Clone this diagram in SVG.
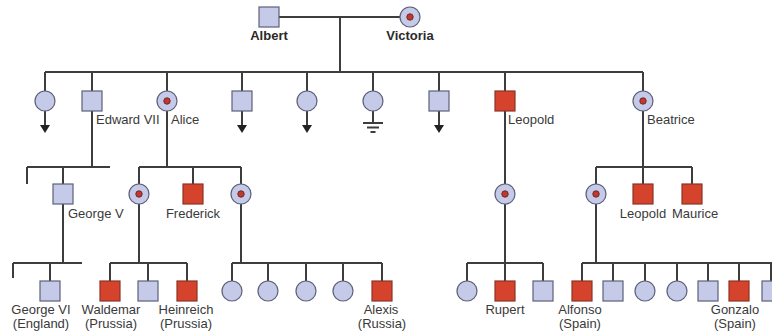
<svg xmlns="http://www.w3.org/2000/svg" width="772" height="335" viewBox="0 0 772 335">
<defs>
<style>
.ln{stroke:#3d3d3d;stroke-width:2;fill:none}
.m{fill:#c5cae9;stroke:#5c6078;stroke-width:1.2}
.a{fill:#d5432c;stroke:#8c3526;stroke-width:1.2}
.c{fill:#c5cae9;stroke:#5c6078;stroke-width:1.2}
.dot{fill:#c0392b;stroke:#6e2a2a;stroke-width:1}
.t{font-family:"Liberation Sans",Arial,sans-serif;font-size:13px;fill:#3a3a3a}
.b{font-family:"Liberation Sans",Arial,sans-serif;font-size:13px;font-weight:bold;fill:#2a2a2a}
.ar{fill:#222}
</style>
</defs>
<rect width="772" height="335" fill="#ffffff"/>
<g id="connectors">
<path class="ln" d="M279 17H400M340 17V72M45 72H643"/>
<path class="ln" d="M45 72V91M92 72V91M167 72V91M242 72V91M307 72V91M373 72V91M439 72V91M505 72V91M643 72V91"/>
<path class="ln" d="M45 111V126M242 111V126M307 111V126M439 111V126"/>
<polygon class="ar" points="40,125 50,125 45,133"/>
<polygon class="ar" points="237,125 247,125 242,133"/>
<polygon class="ar" points="302,125 312,125 307,133"/>
<polygon class="ar" points="434,125 444,125 439,133"/>
<path class="ln" d="M373 111V123M363 123H383M367 127.5H379M370.5 132H375.5"/>
<path class="ln" d="M92 111V167M27 167H110M27 167V184M63 167V184M63 204V263M13 263H82M13 263V278M50 263V281"/>
<path class="ln" d="M167 111V167M139 167H241M139 167V184M193 167V184M241 167V184"/>
<path class="ln" d="M139 204V263M110 263H187M110 263V281M148 263V281M187 263V281"/>
<path class="ln" d="M241 204V263M232 263H382M232 263V281M268 263V281M306 263V281M343 263V281M382 263V281"/>
<path class="ln" d="M505 111V184M505 204V263M467 263H543M467 263V281M505 263V281M543 263V281"/>
<path class="ln" d="M643 111V167M596 167H692M596 167V184M643 167V184M692 167V184"/>
<path class="ln" d="M596 204V263M582 263H772M582 263V281M613 263V281M645 263V281M677 263V281M708 263V281M739 263V281M771 263V281"/>
</g>
<g id="albert"><rect class="m" x="259" y="7" width="20" height="20"/><text class="b" x="269" y="40" text-anchor="middle">Albert</text></g>
<g id="victoria"><circle class="c" cx="410" cy="17" r="10"/><circle class="dot" cx="410" cy="17" r="3.2"/><text class="b" x="410" y="40" text-anchor="middle">Victoria</text></g>
<g id="child1"><circle class="c" cx="45" cy="101" r="10"/></g>
<g id="edward7"><rect class="m" x="82" y="91" width="20" height="20"/><text class="t" x="96" y="124">Edward VII</text></g>
<g id="alice"><circle class="c" cx="167" cy="101" r="10"/><circle class="dot" cx="167" cy="101" r="3.2"/><text class="t" x="171" y="124">Alice</text></g>
<g id="child4"><rect class="m" x="232" y="91" width="20" height="20"/></g>
<g id="child5"><circle class="c" cx="307" cy="101" r="10"/></g>
<g id="child6"><circle class="c" cx="373" cy="101" r="10"/></g>
<g id="child7"><rect class="m" x="429" y="91" width="20" height="20"/></g>
<g id="leopold"><rect class="a" x="495" y="91" width="20" height="20"/><text class="t" x="508" y="124">Leopold</text></g>
<g id="beatrice"><circle class="c" cx="643" cy="101" r="10"/><circle class="dot" cx="643" cy="101" r="3.2"/><text class="t" x="647" y="124">Beatrice</text></g>
<g id="george5"><rect class="m" x="53" y="184" width="20" height="20"/><text class="t" x="68" y="218">George V</text></g>
<g id="alice-d1"><circle class="c" cx="139" cy="194" r="10"/><circle class="dot" cx="139" cy="194" r="3.2"/></g>
<g id="frederick"><rect class="a" x="183" y="184" width="20" height="20"/><text class="t" x="193" y="218" text-anchor="middle">Frederick</text></g>
<g id="alice-d2"><circle class="c" cx="241" cy="194" r="10"/><circle class="dot" cx="241" cy="194" r="3.2"/></g>
<g id="leopold-d"><circle class="c" cx="505" cy="194" r="10"/><circle class="dot" cx="505" cy="194" r="3.2"/></g>
<g id="beatrice-d"><circle class="c" cx="596" cy="194" r="10"/><circle class="dot" cx="596" cy="194" r="3.2"/></g>
<g id="leopold2"><rect class="a" x="633" y="184" width="20" height="20"/><text class="t" x="643" y="218" text-anchor="middle">Leopold</text></g>
<g id="maurice"><rect class="a" x="682" y="184" width="20" height="20"/><text class="t" x="695" y="218" text-anchor="middle">Maurice</text></g>
<g id="george6"><rect class="m" x="40" y="281" width="20" height="20"/><text class="t" x="41" y="314" text-anchor="middle">George VI</text><text class="t" x="41" y="328" text-anchor="middle">(England)</text></g>
<g id="waldemar"><rect class="a" x="100" y="281" width="20" height="20"/><text class="t" x="111" y="314" text-anchor="middle">Waldemar</text><text class="t" x="111" y="328" text-anchor="middle">(Prussia)</text></g>
<g id="g4-3"><rect class="m" x="138" y="281" width="20" height="20"/></g>
<g id="heinreich"><rect class="a" x="177" y="281" width="20" height="20"/><text class="t" x="186" y="314" text-anchor="middle">Heinreich</text><text class="t" x="186" y="328" text-anchor="middle">(Prussia)</text></g>
<g id="g4-5"><circle class="c" cx="232" cy="291" r="10"/></g>
<g id="g4-6"><circle class="c" cx="268" cy="291" r="10"/></g>
<g id="g4-7"><circle class="c" cx="306" cy="291" r="10"/></g>
<g id="g4-8"><circle class="c" cx="343" cy="291" r="10"/></g>
<g id="alexis"><rect class="a" x="372" y="281" width="20" height="20"/><text class="t" x="381" y="314" text-anchor="middle">Alexis</text><text class="t" x="382" y="328" text-anchor="middle">(Russia)</text></g>
<g id="g4-10"><circle class="c" cx="467" cy="291" r="10"/></g>
<g id="rupert"><rect class="a" x="495" y="281" width="20" height="20"/><text class="t" x="505" y="314" text-anchor="middle">Rupert</text></g>
<g id="g4-12"><rect class="m" x="533" y="281" width="20" height="20"/></g>
<g id="alfonso"><rect class="a" x="572" y="281" width="20" height="20"/><text class="t" x="580" y="314" text-anchor="middle">Alfonso</text><text class="t" x="580" y="328" text-anchor="middle">(Spain)</text></g>
<g id="g4-14"><rect class="m" x="603" y="281" width="20" height="20"/></g>
<g id="g4-15"><circle class="c" cx="645" cy="291" r="10"/></g>
<g id="g4-16"><circle class="c" cx="677" cy="291" r="10"/></g>
<g id="g4-17"><rect class="m" x="698" y="281" width="20" height="20"/></g>
<g id="gonzalo"><rect class="a" x="729" y="281" width="20" height="20"/><text class="t" x="735" y="314" text-anchor="middle">Gonzalo</text><text class="t" x="735" y="328" text-anchor="middle">(Spain)</text></g>
<g id="g4-19"><rect class="m" x="762" y="281" width="20" height="20"/></g>
</svg>
